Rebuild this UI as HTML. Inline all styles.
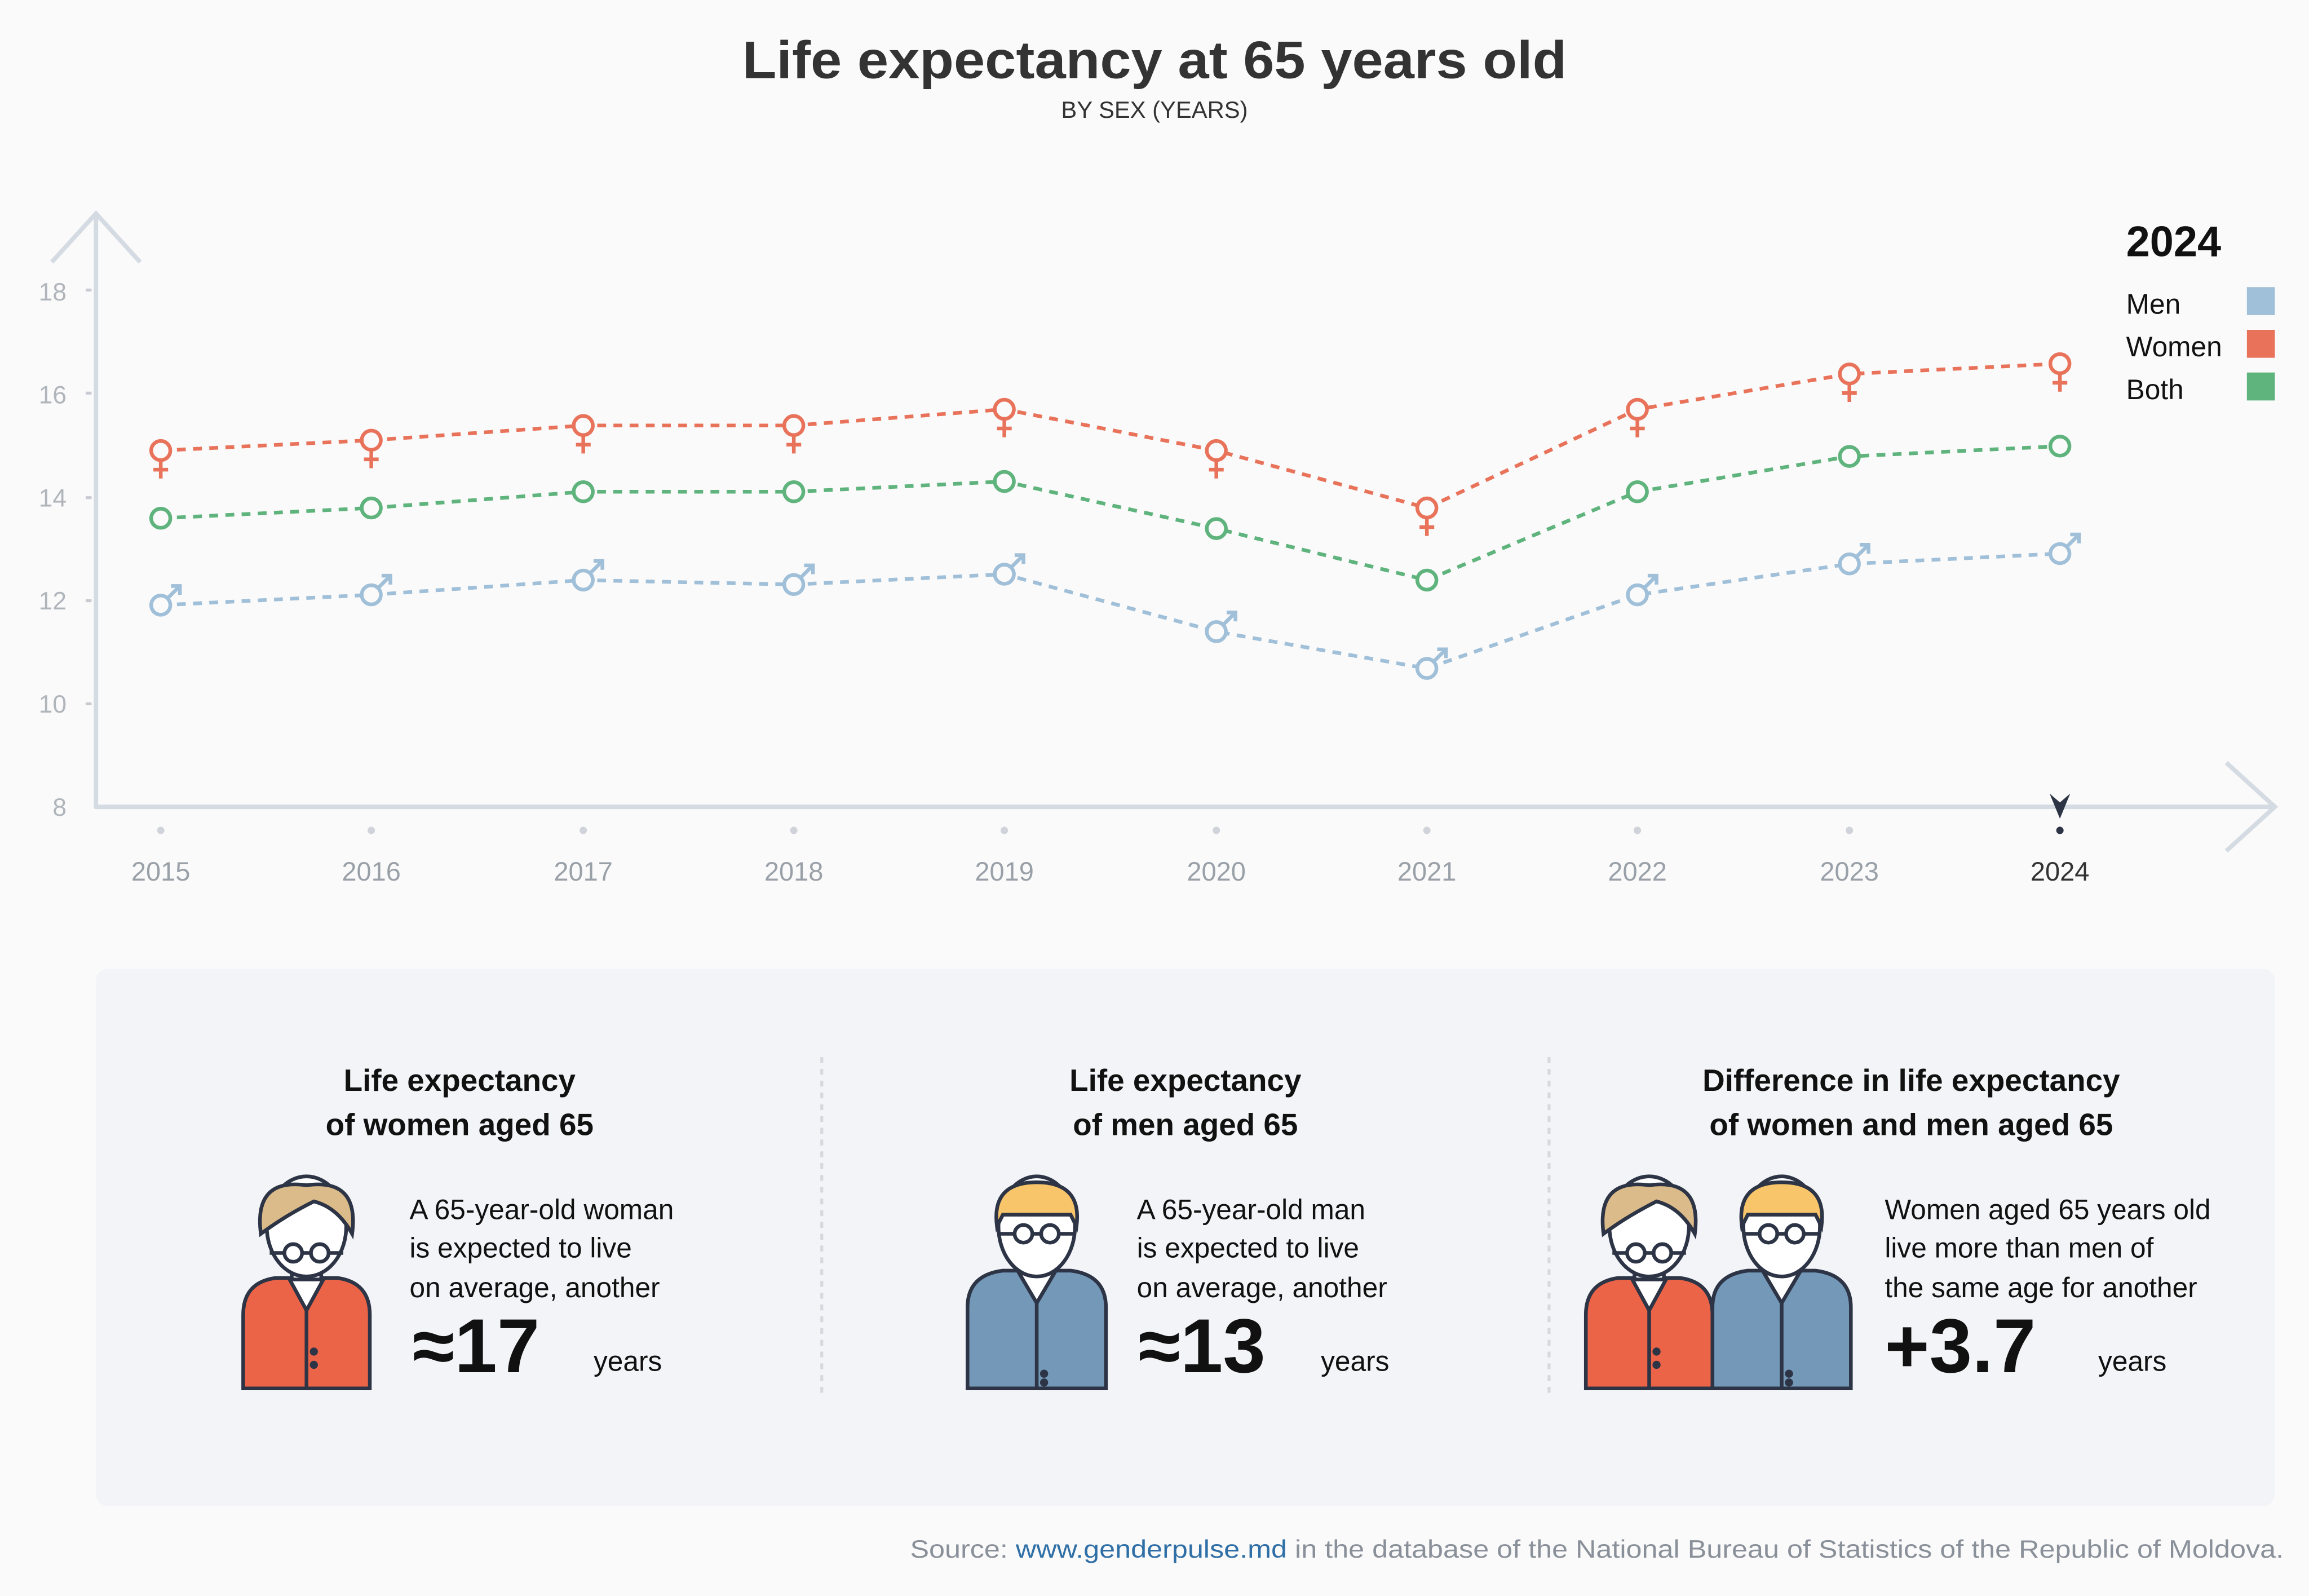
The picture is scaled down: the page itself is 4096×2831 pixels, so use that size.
<!DOCTYPE html>
<html><head><meta charset="utf-8"><style>
html,body{margin:0;padding:0;background:#fafafa;}
svg{display:block;}
text{font-family:"Liberation Sans",sans-serif;}
</style></head><body>
<svg width="4096" height="2831" viewBox="0 0 1568 1084" xmlns="http://www.w3.org/2000/svg">
<rect width="1568" height="1084" fill="#fafafa"/>
<text x="504" y="53" font-size="36" font-weight="bold" fill="#333" textLength="560" lengthAdjust="spacingAndGlyphs">Life expectancy at 65 years old</text>
<text x="784" y="80" text-anchor="middle" font-size="16" fill="#333">BY SEX (YEARS)</text>
<!-- axes -->
<g stroke="#d5dbe2" stroke-width="3" fill="none">
<line x1="65" y1="145" x2="65" y2="549"/>
<polyline points="35,178 65,145 95,178"/>
<line x1="64" y1="548" x2="1545" y2="548"/>
<polyline points="1512,518 1545,548 1512,578"/>
</g>
<g font-size="17" fill="#b0b5bb" text-anchor="end">
<text x="45" y="554">8</text><text x="45" y="484">10</text><text x="45" y="414">12</text><text x="45" y="344">14</text><text x="45" y="274">16</text><text x="45" y="204">18</text>
</g>
<g stroke="#c8ccd2" stroke-width="2"><line x1="58" y1="478" x2="62" y2="478"/><line x1="58" y1="408" x2="62" y2="408"/><line x1="58" y1="338" x2="62" y2="338"/><line x1="58" y1="267" x2="62" y2="267"/><line x1="58" y1="197" x2="62" y2="197"/></g>
<g font-size="18" fill="#9aa0a8" text-anchor="middle">
<text x="109" y="598">2015</text><text x="252" y="598">2016</text><text x="396" y="598">2017</text><text x="539" y="598">2018</text><text x="682" y="598">2019</text><text x="826" y="598">2020</text><text x="969" y="598">2021</text><text x="1112" y="598">2022</text><text x="1256" y="598">2023</text><text x="1399" y="598" fill="#333">2024</text>
</g>
<g fill="#d0d4da"><circle cx="109" cy="564" r="2.5"/><circle cx="252" cy="564" r="2.5"/><circle cx="396" cy="564" r="2.5"/><circle cx="539" cy="564" r="2.5"/><circle cx="682" cy="564" r="2.5"/><circle cx="826" cy="564" r="2.5"/><circle cx="969" cy="564" r="2.5"/><circle cx="1112" cy="564" r="2.5"/><circle cx="1256" cy="564" r="2.5"/></g>
<circle cx="1399" cy="564" r="2.5" fill="#2c3445"/>
<path d="M1392,539 L1399,556 L1406,539 L1399,545 Z" fill="#2c3445"/>
<!-- series -->
<g fill="none" stroke-width="2.5" stroke-dasharray="6,5">
<polyline stroke="#e8735a" points="109,306 252,299 396,289 539,289 682,278 826,306 969,345 1112,278 1256,254 1399,247"/>
<polyline stroke="#5fb37c" points="109,352 252,345 396,334 539,334 682,327 826,359 969,394 1112,334 1256,310 1399,303"/>
<polyline stroke="#a0bfd8" points="109,411 252,404 396,394 539,397 682,390 826,429 969,454 1112,404 1256,383 1399,376"/>
</g>
<g fill="#fafafa" stroke-width="2.5">
<g stroke="#e8735a">
<circle cx="109" cy="306" r="6.5"/><circle cx="252" cy="299" r="6.5"/><circle cx="396" cy="289" r="6.5"/><circle cx="539" cy="289" r="6.5"/><circle cx="682" cy="278" r="6.5"/><circle cx="826" cy="306" r="6.5"/><circle cx="969" cy="345" r="6.5"/><circle cx="1112" cy="278" r="6.5"/><circle cx="1256" cy="254" r="6.5"/><circle cx="1399" cy="247" r="6.5"/>
<path d="M109,313v12M104,319h10M252,306v12M247,312h10M396,296v12M391,302h10M539,296v12M534,302h10M682,285v12M677,291h10M826,313v12M821,319h10M969,352v12M964,358h10M1112,285v12M1107,291h10M1256,261v12M1251,267h10M1399,254v12M1394,260h10"/>
</g>
<g stroke="#5fb37c">
<circle cx="109" cy="352" r="6.5"/><circle cx="252" cy="345" r="6.5"/><circle cx="396" cy="334" r="6.5"/><circle cx="539" cy="334" r="6.5"/><circle cx="682" cy="327" r="6.5"/><circle cx="826" cy="359" r="6.5"/><circle cx="969" cy="394" r="6.5"/><circle cx="1112" cy="334" r="6.5"/><circle cx="1256" cy="310" r="6.5"/><circle cx="1399" cy="303" r="6.5"/>
</g>
<g stroke="#a0bfd8">
<circle cx="109" cy="411" r="6.5"/><circle cx="252" cy="404" r="6.5"/><circle cx="396" cy="394" r="6.5"/><circle cx="539" cy="397" r="6.5"/><circle cx="682" cy="390" r="6.5"/><circle cx="826" cy="429" r="6.5"/><circle cx="969" cy="454" r="6.5"/><circle cx="1112" cy="404" r="6.5"/><circle cx="1256" cy="383" r="6.5"/><circle cx="1399" cy="376" r="6.5"/>
<path fill="none" d="M114,406l8,-8m-6,0h6v6M257,399l8,-8m-6,0h6v6M401,389l8,-8m-6,0h6v6M544,392l8,-8m-6,0h6v6M687,385l8,-8m-6,0h6v6M831,424l8,-8m-6,0h6v6M974,449l8,-8m-6,0h6v6M1117,399l8,-8m-6,0h6v6M1261,378l8,-8m-6,0h6v6M1404,371l8,-8m-6,0h6v6"/>
</g>
</g>
<!-- legend -->
<text x="1444" y="174" font-size="29" font-weight="bold" fill="#111">2024</text>
<g font-size="19" fill="#111"><text x="1444" y="213">Men</text><text x="1444" y="242">Women</text><text x="1444" y="271">Both</text></g>
<rect x="1526" y="195" width="19" height="19" fill="#a0bfd8"/><rect x="1526" y="224" width="19" height="19" fill="#e8735a"/><rect x="1526" y="253" width="19" height="19" fill="#5fb37c"/>
<!-- panel -->
<rect x="65" y="658" width="1480" height="365" rx="8" fill="#f3f4f7"/>
<g stroke="#d5d9df" stroke-width="2" stroke-dasharray="4,4"><line x1="558" y1="718" x2="558" y2="950"/><line x1="1052" y1="718" x2="1052" y2="950"/></g>
<g font-size="21" font-weight="bold" fill="#111" text-anchor="middle">
<text x="312" y="741">Life expectancy</text><text x="312" y="771">of women aged 65</text>
<text x="805" y="741">Life expectancy</text><text x="805" y="771">of men aged 65</text>
<text x="1298" y="741">Difference in life expectancy</text><text x="1298" y="771">of women and men aged 65</text>
</g>
<g font-size="19" fill="#111">
<text x="278" y="828">A 65-year-old woman</text><text x="278" y="854">is expected to live</text><text x="278" y="881">on average, another</text>
<text x="772" y="828">A 65-year-old man</text><text x="772" y="854">is expected to live</text><text x="772" y="881">on average, another</text>
<text x="1280" y="828">Women aged 65 years old</text><text x="1280" y="854">live more than men of</text><text x="1280" y="881">the same age for another</text>
<text x="403" y="931">years</text><text x="897" y="931">years</text><text x="1425" y="931">years</text>
</g>
<g font-size="52" font-weight="bold" fill="#111">
<text x="280" y="932">≈17</text><text x="773" y="932">≈13</text><text x="1280" y="932">+3.7</text>
</g>
<!-- icons -->
<defs>
<g id="woman" stroke="#2c3445" stroke-width="2.5">
<path d="M-43,140 v-50 q0,-22 22,-25 h42 q22,3 22,25 v50 z" fill="#ec6447"/>
<path d="M-12,65 l12,22 l12,-22" fill="#fff"/>
<path d="M0,87 v53" fill="none"/>
<circle cx="5" cy="115" r="1.5" fill="#2c3445"/><circle cx="5" cy="124" r="1.5" fill="#2c3445"/>
<path d="M-10,52 v14 h20 v-14" fill="#fff"/>
<ellipse cx="0" cy="30" rx="27" ry="34" fill="#fff"/>
<path d="M-31,35 q-5,-38 31,-33 q36,-5 31,33 q-10,-18 -26,-22 q-20,10 -36,22 z" fill="#dcbb8a"/>
<circle cx="-9" cy="48" r="6" fill="#fff"/><circle cx="9" cy="48" r="6" fill="#fff"/>
<path d="M-3,48h6M-15,48h-10M15,48h10" fill="none"/>
</g>
<g id="man" stroke="#2c3445" stroke-width="2.5">
<path d="M-47,140 v-55 q0,-22 24,-25 h46 q24,3 24,25 v55 z" fill="#7499b8"/>
<path d="M-13,60 l13,22 l13,-22" fill="#fff"/>
<path d="M0,82 v58" fill="none"/>
<circle cx="5" cy="130" r="1.5" fill="#2c3445"/><circle cx="5" cy="136" r="1.5" fill="#2c3445"/>
<path d="M-10,50 v12 h20 v-12" fill="#fff"/>
<ellipse cx="0" cy="30" rx="26" ry="34" fill="#fff"/>
<path d="M-27,30 q-4,-30 27,-30 q31,0 27,30 l-4,-8 h-46 z" fill="#f8c56a"/>
<circle cx="-9" cy="35" r="6" fill="#fff"/><circle cx="9" cy="35" r="6" fill="#fff"/>
<path d="M-3,35h6M-15,35h-10M15,35h10" fill="none"/>
</g>
</defs>
<use href="#woman" x="208" y="803"/>
<use href="#man" x="704" y="803"/>
<use href="#woman" x="1120" y="803"/>
<use href="#man" x="1210" y="803"/>
<text x="618" y="1058" font-size="17" fill="#8a9099" textLength="933" lengthAdjust="spacingAndGlyphs">Source: <tspan fill="#2f6fa6">www.genderpulse.md</tspan> in the database of the National Bureau of Statistics of the Republic of Moldova.</text>
</svg>
</body></html>
